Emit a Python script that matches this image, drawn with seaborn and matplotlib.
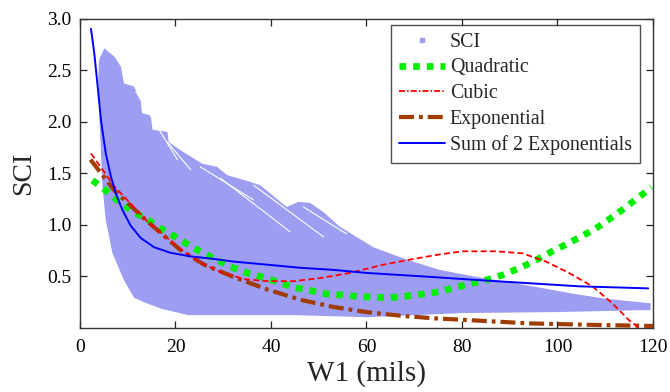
import numpy as np
import matplotlib
matplotlib.use("Agg")
import matplotlib.pyplot as plt
import seaborn as sns
from matplotlib.lines import Line2D

# ---- data ----
# SCI scatter cloud: boundary of the dense region of measured points
cloud_upper_x = [3.8, 4.0, 5.1, 7.2, 8.6, 9.2, 11.3, 12.7, 13.0, 14.8, 15.2, 18.3, 18.6, 21.1,
                 25.6, 28.7, 30.8, 35.3, 37.8, 43.3, 45.7, 48.2, 51.0, 54.4, 61.4, 68.4,
                 75.3, 82.0, 89.2, 96.0, 103.0, 110.0, 119.5]
cloud_upper_y = [2.40, 2.60, 2.71, 2.63, 2.53, 2.37, 2.34, 2.21, 2.08, 2.06, 1.92, 1.90, 1.80, 1.72,
                 1.59, 1.56, 1.48, 1.42, 1.38, 1.17, 1.22, 1.21, 1.12, 0.98, 0.78, 0.66,
                 0.56, 0.50, 0.445, 0.39, 0.33, 0.28, 0.235]
cloud_lower_x = [119.5, 100.0, 80.0, 60.0, 45.0, 30.0, 22.7, 17.2, 13.7, 11.3, 9.2, 6.8,
                 5.4, 4.7, 4.4, 4.1]
cloud_lower_y = [0.17, 0.15, 0.14, 0.10, 0.12, 0.12, 0.12, 0.18, 0.24, 0.29, 0.46, 0.72,
                 1.04, 1.37, 1.69, 2.00]

# white gaps between streaks of the cloud
gap1_x = [11.7, 20.4]; gap1_y = [2.29, 1.63]
gap2_x = [18.3, 23.2]; gap2_y = [1.80, 1.53]
gap3_x = [25.2, 36.3]; gap3_y = [1.56, 1.24]
gap4_x = [29.4, 44.0]; gap4_y = [1.45, 0.93]
gap5_x = [36.4, 51.0]; gap5_y = [1.38, 0.88]
gap6_x = [46.8, 55.8]; gap6_y = [1.17, 0.91]

# fitted models
quad_x = [2.6, 5.4, 8.2, 11.3, 14.1, 16.9, 20.0, 22.8, 25.9, 28.7, 31.5, 35.0, 38.1, 41.6,
          44.7, 48.2, 51.7, 55.1, 58.6, 61.0, 64.9, 68.4, 71.8, 74.9, 78.8, 82.2, 85.0,
          88.5, 92.7, 95.5, 98.9, 102.4, 105.2, 108.0, 110.8, 113.5, 116.3, 119.7]
quad_y = [1.43, 1.33, 1.22, 1.12, 1.05, 0.96, 0.88, 0.80, 0.72, 0.655, 0.59, 0.53, 0.49, 0.44,
          0.39, 0.36, 0.325, 0.315, 0.30, 0.295, 0.29, 0.305, 0.325, 0.345, 0.39, 0.43, 0.46,
          0.51, 0.59, 0.655, 0.74, 0.82, 0.89, 0.96, 1.05, 1.14, 1.24, 1.36]

cubic_x = [2.3, 7.2, 14.1, 21.1, 25.2, 29.4, 34.3, 39.2, 44.7, 50.3, 56.5, 63.5, 70.4,
           75.3, 80.2, 87.1, 92.7, 97.6, 102.4, 107.3, 111.5, 115.0, 116.7, 118.0]
cubic_y = [1.69, 1.37, 1.03, 0.76, 0.63, 0.54, 0.47, 0.45, 0.45, 0.48, 0.53, 0.61, 0.67,
           0.71, 0.74, 0.74, 0.72, 0.64, 0.53, 0.40, 0.235, 0.07, 0.01, -0.05]

expo_x = [2.2, 7.2, 14.1, 21.1, 26.0, 32.2, 39.2, 46.1, 53.0, 60.0, 67.0, 73.9, 80.2,
          94.1, 108.0, 120.0]
expo_y = [1.63, 1.33, 1.03, 0.75, 0.61, 0.49, 0.37, 0.27, 0.20, 0.15, 0.115, 0.09, 0.075,
          0.04, 0.025, 0.015]

sum2_x = [2.3, 3.0, 3.7, 4.4, 5.4, 6.5, 7.5, 8.9, 10.6, 12.7, 15.5, 19.0, 23.2, 27.3,
          32.2, 39.2, 46.1, 53.0, 60.0, 67.0, 73.9, 83.6, 94.1, 104.5, 119.0]
sum2_y = [2.90, 2.66, 2.34, 2.01, 1.69, 1.46, 1.30, 1.14, 0.99, 0.87, 0.78, 0.725, 0.69, 0.67,
          0.64, 0.61, 0.58, 0.56, 0.53, 0.51, 0.49, 0.46, 0.43, 0.40, 0.38]

x_ticks = [0, 20, 40, 60, 80, 100, 120]
y_ticks = [0.5, 1.0, 1.5, 2.0, 2.5, 3.0]

# ---- styling ----
sns.set_style("ticks")
plt.rcParams['font.family'] = ['Liberation Serif', 'DejaVu Serif']

SCI_COLOR = '#9d9df2'

fig = plt.figure(figsize=(6.70, 3.92), dpi=100)
ax = fig.add_axes([0.1194, 0.1645, 0.8552, 0.7883])

# cloud polygon
poly_x = cloud_upper_x + cloud_lower_x
poly_y = cloud_upper_y + cloud_lower_y
ax.fill(poly_x, poly_y, color=SCI_COLOR, lw=0, zorder=1)
for gx, gy in [(gap1_x, gap1_y), (gap2_x, gap2_y), (gap3_x, gap3_y),
               (gap4_x, gap4_y), (gap5_x, gap5_y), (gap6_x, gap6_y)]:
    ax.plot(gx, gy, color='white', lw=0.8, zorder=1.5)

sns.lineplot(x=quad_x, y=quad_y, ax=ax, color='#00ee00', lw=4.8,
             linestyle=(0, (1, 1.05)), dash_capstyle='butt', zorder=3, legend=False, sort=False)
sns.lineplot(x=cubic_x, y=cubic_y, ax=ax, color='#ff0000', lw=1.3,
             linestyle=(0, (3.3, 1.8)), zorder=4, legend=False, sort=False)
sns.lineplot(x=expo_x, y=expo_y, ax=ax, color='#a03c00', lw=3.0,
             linestyle=(0, (3.6, 1.2, 0.9, 1.2)), zorder=3.5, legend=False, sort=False)
sns.lineplot(x=sum2_x, y=sum2_y, ax=ax, color='#0000ff', lw=1.4, zorder=5,
             legend=False, sort=False)

ax.set_xlim(0, 120)
ax.set_ylim(0, 3.0)
ax.set_xticks(x_ticks)
ax.set_yticks(y_ticks)
ax.set_xticklabels([str(v) for v in x_ticks])
ax.set_yticklabels([f"{v:.1f}" for v in y_ticks])
ax.tick_params(direction='in', length=5, width=0.9, top=True, right=True,
               labelsize=14, colors='#222222', labelcolor='black', pad=6)
ax.tick_params(axis='x', pad=8)
for s in ax.spines.values():
    s.set_color('#333333')
    s.set_linewidth(1.0)
ax.set_xlabel("W1 (mils)", fontsize=21, labelpad=3)
ax.set_ylabel("SCI", fontsize=20, labelpad=8)

handles = [
    Line2D([], [], ls='none', marker='s', ms=3, color=SCI_COLOR),
    Line2D([], [], color='#00ee00', lw=4.8, ls=(0, (1, 1.05)), dash_capstyle='butt'),
    Line2D([], [], color='#ff0000', lw=1.3, ls=(0, (3.3, 1.2, 0.8, 1.2))),
    Line2D([], [], color='#a03c00', lw=3.0, ls=(0, (3.6, 1.2, 0.9, 1.2))),
    Line2D([], [], color='#0000ff', lw=1.4),
]
labels = ["SCI", "Quadratic", "Cubic", "Exponential", "Sum of 2 Exponentials"]
leg = ax.legend(handles, labels, loc='upper right', bbox_to_anchor=(0.977, 0.979),
                fontsize=14.3, frameon=True, fancybox=False, edgecolor='#222222',
                handlelength=2.3, handletextpad=0.25, labelspacing=0.33,
                borderpad=0.4, borderaxespad=0.0)
leg.get_frame().set_linewidth(1.0)
leg.set_zorder(10)

fig.savefig("out.png", dpi=100)
